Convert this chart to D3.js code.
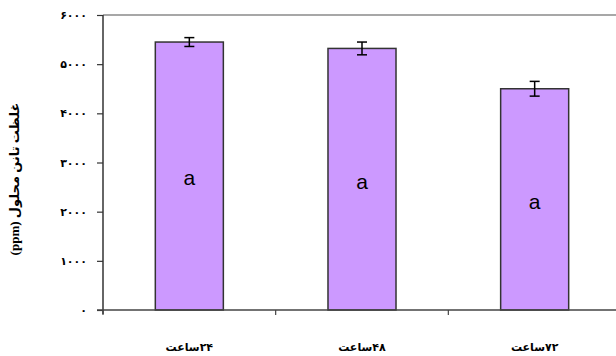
<!DOCTYPE html>
<html>
<head>
<meta charset="utf-8">
<script src="https://cdn.jsdelivr.net/npm/d3@7"></script>
<style>
  html, body { margin: 0; padding: 0; background: #fff; }
  svg { display: block; }
</style>
</head>
<body>
<svg id="chart" width="616" height="356"></svg>
<script>
// Tannin concentration after each soaking time
const categories = ["۲۴ساعت", "۴۸ساعت", "۷۲ساعت"];
const values = [5450, 5320, 4500];
const errors = [90, 130, 150];
const groupLabels = ["a", "a", "a"];
const yTicks = [0, 1000, 2000, 3000, 4000, 5000, 6000];
const yTitle = "غلظت تانن محلول (ppm)";

const faDigits = "۰۱۲۳۴۵۶۷۸۹";
const toFa = n => String(n).replace(/\d/g, d => faDigits[+d]);

const svg = d3.select("#chart");
const plotLeft = 103, plotRight = 621, plotTop = 15, plotBottom = 310;

const y = d3.scaleLinear().domain([0, 6000]).range([plotBottom, plotTop]);
const x = d3.scaleBand().domain(categories).range([plotLeft, plotRight])
  .paddingInner(0.606).paddingOuter(0.303);

const serif = "'Times New Roman', 'Liberation Serif', 'DejaVu Sans', serif";

// top border of the plot area
svg.append("line")
  .attr("x1", plotLeft).attr("x2", 616).attr("y1", plotTop).attr("y2", plotTop)
  .attr("stroke", "#8a8a8a").attr("stroke-width", 1.5);

// bars
svg.selectAll("rect.bar").data(values).join("rect")
  .attr("class", "bar")
  .attr("x", (d, i) => x(categories[i]))
  .attr("y", d => y(d))
  .attr("width", x.bandwidth())
  .attr("height", d => y(0) - y(d))
  .attr("fill", "#cc99ff")
  .attr("stroke", "#333")
  .attr("stroke-width", 1.5);

// error bars
const eb = svg.append("g").attr("stroke", "#000").attr("stroke-width", 1.5);
values.forEach((v, i) => {
  const cx = x(categories[i]) + x.bandwidth() / 2;
  const e = errors[i];
  eb.append("line").attr("x1", cx).attr("x2", cx).attr("y1", y(v + e)).attr("y2", y(v - e));
  eb.append("line").attr("x1", cx - 5).attr("x2", cx + 5).attr("y1", y(v + e)).attr("y2", y(v + e));
  eb.append("line").attr("x1", cx - 5).attr("x2", cx + 5).attr("y1", y(v - e)).attr("y2", y(v - e));
});

// significance letters
svg.selectAll("text.grp").data(values).join("text")
  .attr("class", "grp")
  .attr("x", (d, i) => x(categories[i]) + x.bandwidth() / 2)
  .attr("y", d => (y(d) + y(0)) / 2 + 2)
  .attr("dy", "0.35em")
  .attr("text-anchor", "middle")
  .attr("font-family", "'Liberation Sans', Arial, sans-serif")
  .attr("font-size", 21)
  .attr("fill", "#000")
  .text((d, i) => groupLabels[i]);

// y axis
const yAxis = svg.append("g")
  .attr("transform", `translate(${plotLeft},0)`)
  .call(d3.axisLeft(y).tickValues(yTicks).tickSize(6).tickPadding(10).tickFormat(toFa));
yAxis.select(".domain").attr("stroke", "#333").attr("stroke-width", 1.5).attr("d", `M0,${plotTop}V${plotBottom + 4}`);
yAxis.selectAll(".tick line").attr("stroke", "#333").attr("stroke-width", 1.2);
yAxis.selectAll(".tick text")
  .attr("font-family", serif).attr("font-size", 11).attr("font-weight", "bold").attr("fill", "#000");

// x axis
svg.append("line")
  .attr("x1", plotLeft - 6).attr("x2", 616).attr("y1", plotBottom).attr("y2", plotBottom)
  .attr("stroke", "#444").attr("stroke-width", 1.5);
const gap = x.step() - x.bandwidth();
categories.forEach(c => {
  const bx = x(c) - gap / 2;
  svg.append("line").attr("x1", bx).attr("x2", bx).attr("y1", plotBottom).attr("y2", plotBottom + 5)
    .attr("stroke", "#444").attr("stroke-width", 1.2);
});
svg.selectAll("text.cat").data(categories).join("text")
  .attr("class", "cat")
  .attr("x", c => x(c) + x.bandwidth() / 2)
  .attr("y", 351)
  .attr("text-anchor", "middle")
  .attr("direction", "rtl")
  .attr("font-family", serif).attr("font-size", 11).attr("font-weight", "bold")
  .text(c => c);

// y axis title
svg.append("text")
  .attr("transform", "translate(19,179) rotate(-90)")
  .attr("text-anchor", "middle")
  .attr("direction", "rtl")
  .attr("font-family", serif).attr("font-size", 13).attr("font-weight", "bold")
  .text(yTitle);
</script>
</body>
</html>
